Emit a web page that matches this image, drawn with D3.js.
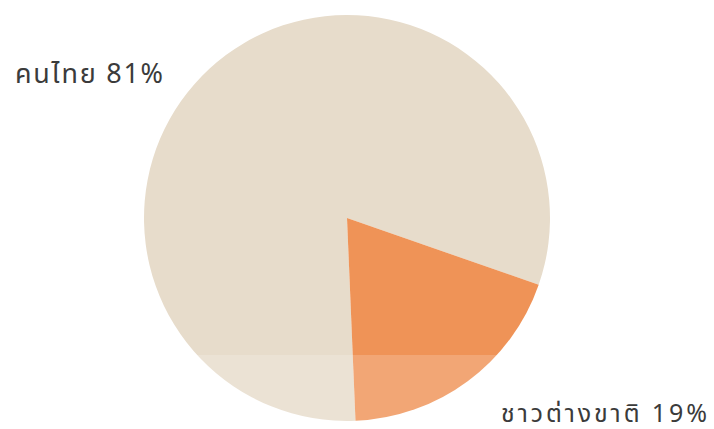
<!DOCTYPE html>
<html>
<head>
<meta charset="utf-8">
<script src="https://cdn.jsdelivr.net/npm/d3@7"></script>
<style>
  html, body { margin: 0; padding: 0; background: #fff; }
  svg { display: block; }
  .label { font-family: 'Noto Sans', 'Noto Sans Thai', 'DejaVu Sans', sans-serif; fill: #3b3b3b; }
</style>
</head>
<body>
<svg id="chart" width="714" height="429"></svg>
<script>
const categories = ['คนไทย', 'ชาวต่างขาติ'];
const shares = [81, 19];
const colors = ['#e7dccb', '#ef9357'];

const svg = d3.select('#chart');
const cx = 347;
const cy = 218;
const radius = 203;

// foreign slice sits in the lower right, roughly centred at 143 degrees
const foreignMid = (143.4 * Math.PI) / 180;
const foreignHalf = (shares[1] / 100) * Math.PI;
const start = foreignMid + foreignHalf;

const pie = d3.pie()
  .sort(null)
  .value(d => d.value)
  .startAngle(start)
  .endAngle(start + 2 * Math.PI);

const arc = d3.arc().innerRadius(0).outerRadius(radius);

const data = categories.map((c, i) => ({ name: c, value: shares[i], color: colors[i] }));

const g = svg.append('g').attr('transform', `translate(${cx},${cy})`);

g.selectAll('path')
  .data(pie(data))
  .join('path')
    .attr('d', arc)
    .attr('fill', d => d.data.color);

// faint lighter band across the bottom, like the scanned original
svg.append('rect')
  .attr('x', 0)
  .attr('y', 355)
  .attr('width', 714)
  .attr('height', 74)
  .attr('fill', '#fff')
  .attr('opacity', 0.18);

svg.append('text')
  .attr('class', 'label')
  .attr('x', 163)
  .attr('y', 83)
  .attr('text-anchor', 'end')
  .attr('font-size', 27)
  .attr('textLength', 148)
  .attr('lengthAdjust', 'spacing')
  .text(`${categories[0]} ${shares[0]}%`);

svg.append('text')
  .attr('class', 'label')
  .attr('x', 707)
  .attr('y', 422)
  .attr('text-anchor', 'end')
  .attr('font-size', 25)
  .attr('textLength', 206)
  .attr('lengthAdjust', 'spacing')
  .text(`${categories[1]} ${shares[1]}%`);
</script>
</body>
</html>
